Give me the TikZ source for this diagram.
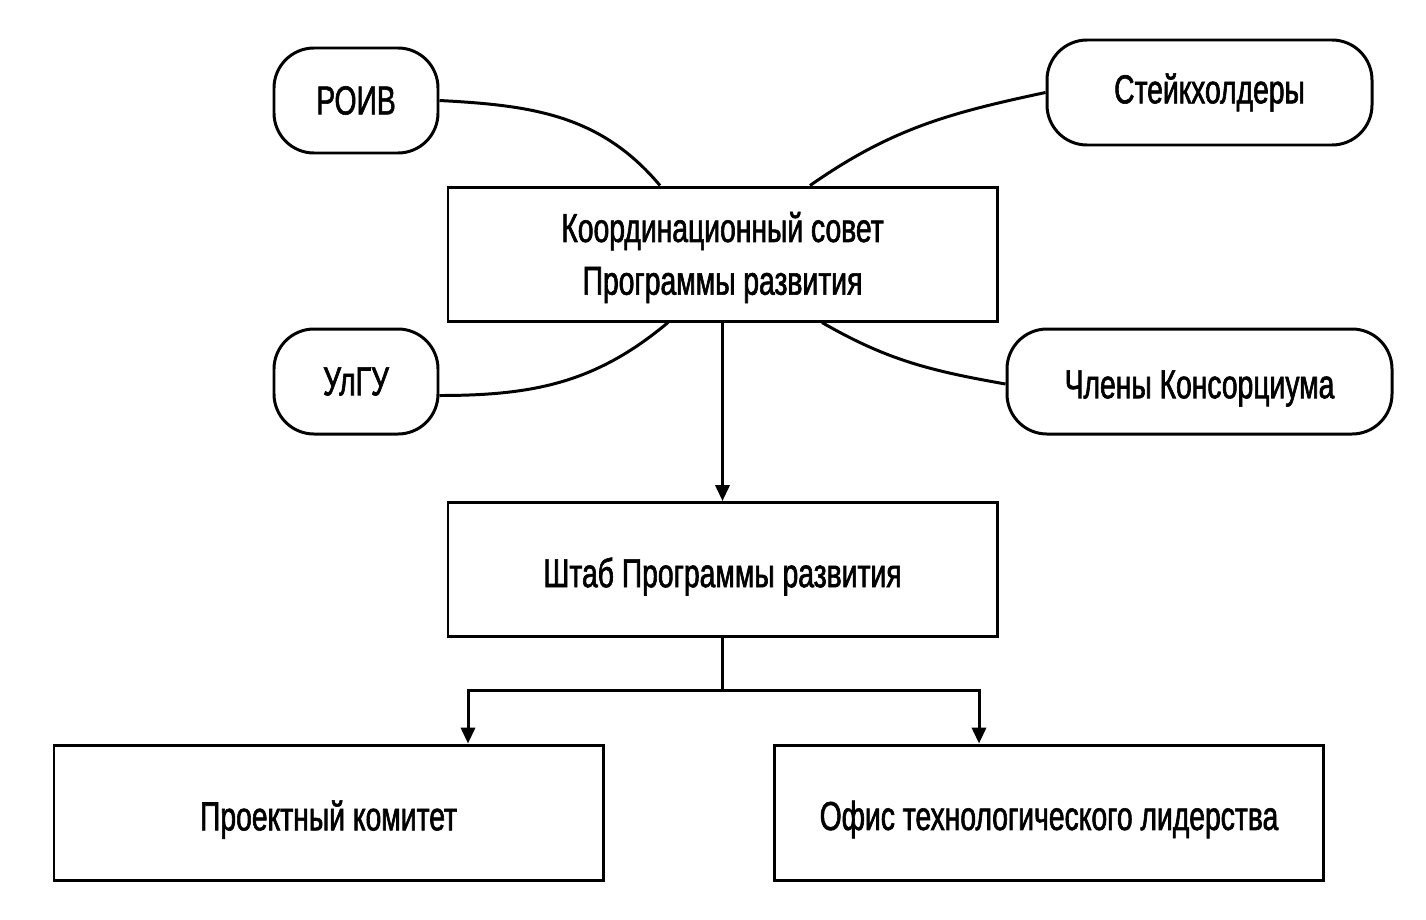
\documentclass[tikz,border=0pt]{standalone}
\usepackage{fontspec}
\setmainfont[FakeStretch=0.7, FakeBold=1.5]{Liberation Sans}
\usetikzlibrary{arrows.meta, positioning}
\newcommand{\lowtext}[1]{\raisebox{-4pt}[\height][\depth]{#1}}

\begin{document}
\begin{tikzpicture}[
  every node/.style={font=\fontsize{23}{30}\selectfont},
  blk/.style={draw, line width=1.7pt, align=center, minimum width=10.98cm, minimum height=2.68cm},
  pill/.style={draw, line width=1.7pt, rounded corners=0.8cm, align=center, minimum height=2.1cm},
  >={Triangle[length=9pt, width=8pt]}, line width=1.7pt
]
\useasboundingbox (0,0) rectangle (28.52,-18.38);
% main boxes
\node[blk] (coord) at (14.45,-5.08) {\raisebox{-2pt}[\height][\depth]{Координационный совет}\\ \raisebox{-2pt}[\height][\depth]{Программы развития}};
\node[blk] (shtab) at (14.45,-11.39) {\lowtext{Штаб Программы развития}};
\node[blk, minimum height=2.7cm] (proj) at (6.57,-16.25) {\lowtext{Проектный комитет}};
\node[blk, minimum height=2.7cm] (ofis) at (20.98,-16.25) {\lowtext{Офис технологического лидерства}};
% participants
\node[pill, minimum width=3.28cm] (roiv) at (7.12,-2.01) {РОИВ};
\node[pill, minimum width=6.5cm] (stake) at (24.19,-1.85) {Стейкхолдеры};
\node[pill, minimum width=3.28cm] (ulgu) at (7.12,-7.63) {УлГУ};
\node[pill, minimum width=7.7cm] (chleny) at (23.99,-7.63) {\lowtext{Члены Консорциума}};
% links to the council
\draw (roiv.east) to[out=-3, in=130] ([xshift=-1.25cm]coord.north);
\draw (stake.west) to[out=192, in=35] ([xshift=1.75cm]coord.north);
\draw ([yshift=-0.28cm]ulgu.east) to[out=0, in=-140] ([xshift=-1.09cm]coord.south);
\draw ([yshift=-0.05cm]chleny.west) to[out=170, in=-30] ([xshift=1.99cm]coord.south);
% hierarchy
\draw[->] (coord.south) -- (shtab.north);
\coordinate (jn) at (14.45,-13.8);
\draw (shtab.south) -- (jn);
\draw[->] (jn) -| ([xshift=2.79cm]proj.north);
\draw[->] (jn) -| ([xshift=-1.4cm]ofis.north);
\end{tikzpicture}
\end{document}
